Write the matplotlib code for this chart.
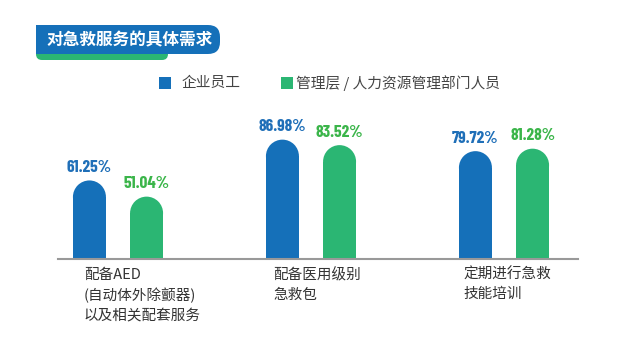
import matplotlib
matplotlib.use("Agg")
import matplotlib.pyplot as plt
import numpy as np
from matplotlib.patches import Ellipse, FancyBboxPatch, Rectangle

plt.rcParams['font.family'] = ['Noto Sans CJK SC', 'DejaVu Sans']

categories = ["配备AED\n(自动体外除颤器)\n以及相关配套服务", "配备医用级别\n急救包", "定期进行急救\n技能培训"]
series_names = ["企业员工", "管理层 / 人力资源管理部门人员"]
employees = [61.25, 86.98, 79.72]
managers = [51.04, 83.52, 81.28]
title = "对急救服务的具体需求"

blue = "#1570b9"
green = "#2bb673"
label_blue = "#1f6fb8"
label_green = "#3bb54a"

W, H = 640, 347
fig = plt.figure(figsize=(W / 100, H / 100), dpi=100)

# overlay in pixel coords for decorations
deco = fig.add_axes([0, 0, 1, 1])
deco.set_xlim(0, W)
deco.set_ylim(H, 0)
deco.axis("off")

# title banner
deco.add_patch(FancyBboxPatch((36, 44), 132, 16, boxstyle="round,pad=0,rounding_size=6",
                              fc=green, ec="none"))
deco.add_patch(FancyBboxPatch((36, 25), 184, 29, boxstyle="round,pad=0,rounding_size=12",
                              fc=blue, ec="none"))
deco.add_patch(Rectangle((36, 25), 20, 29, fc=blue, ec="none"))
deco.text(130, 40, title, color="white", fontsize=12, fontweight="bold",
          ha="center", va="center")

# legend
deco.add_patch(Rectangle((159, 77), 12, 12, fc=blue, ec="none"))
deco.text(182, 83, series_names[0], color="#444444", fontsize=10.6, va="center")
deco.add_patch(Rectangle((281, 77), 12, 12, fc=green, ec="none"))
deco.text(296, 83, series_names[1], color="#444444", fontsize=10.6, va="center")

# bar axes
ax_l, ax_r, ax_b, ax_t = 58, 578, 259, 119
px_per_x = 193.0
x0_px = 118
ax = fig.add_axes([ax_l / W, 1 - ax_b / H, (ax_r - ax_l) / W, (ax_b - ax_t) / H])
ymin, ymax = 11.7, 100
ax.set_ylim(ymin, ymax)
ax.set_xlim((ax_l - x0_px) / px_per_x, (ax_r - x0_px) / px_per_x)
for s in ["top", "right", "left"]:
    ax.spines[s].set_visible(False)
ax.spines["bottom"].set_color("#999999")
ax.spines["bottom"].set_linewidth(1.5)
ax.set_yticks([])
ax.set_xticks([])

x = np.arange(len(categories))
off = 0.148
bw = 0.171
px_per_y = (ax_b - ax_t) / (ymax - ymin)
r_px = bw * px_per_x / 2
r_y = r_px / px_per_y

for vals, dx, col, lcol in [(employees, -off, blue, label_blue), (managers, off, green, label_green)]:
    tops = [v - r_y for v in vals]
    ax.bar(x + dx, [t - ymin for t in tops], bottom=ymin, width=bw, color=col, edgecolor="none")
    for xi, v, t in zip(x + dx, vals, tops):
        ax.add_patch(Ellipse((xi, t), bw, 2 * r_y, fc=col, ec="none"))
        ax.text(xi, v + 3.4, f"{v:.2f}%", color=lcol, fontsize=12.5, fontweight="bold",
                family=["Barlow Condensed", "DejaVu Sans"], ha="center", va="bottom")

# category labels
label_x = [84, 273, 463]
for lx, cat in zip(label_x, categories):
    deco.text(lx, 268, cat, color="#333333", fontsize=10.5, ha="left", va="top", linespacing=1.45)

fig.savefig("out.png", dpi=100)
